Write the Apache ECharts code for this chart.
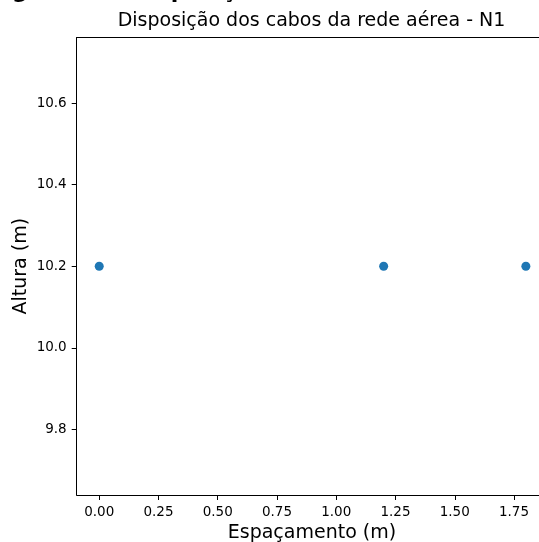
<!DOCTYPE html>
<html>
<head>
<meta charset="utf-8">
<script src="https://cdn.jsdelivr.net/npm/echarts@6/dist/echarts.min.js"></script>
<style>
  html, body { margin: 0; padding: 0; background: #fff; }
  #chart { width: 539px; height: 542px; }
</style>
</head>
<body>
<div id="chart"></div>
<script>
// Cable positions of the overhead line (N1)
const espacamento = [0.0, 1.2, 1.8];      // horizontal spacing (m)
const altura = [10.2, 10.2, 10.2];        // height (m)

// Tick values
const xTicks = [0.0, 0.25, 0.5, 0.75, 1.0, 1.25, 1.5, 1.75];
const yTicks = [9.8, 10.0, 10.2, 10.4, 10.6];

const FONT = 'DejaVu Sans';
const points = espacamento.map((x, i) => [x, altura[i]]);

const chart = echarts.init(document.getElementById('chart'), null, { renderer: 'canvas' });

chart.setOption({
  animation: false,
  backgroundColor: '#ffffff',
  title: [
    {
      text: 'Figura 12 - Disposição dos cabos da rede aérea',
      left: -10.6,
      top: -18.5,
      padding: 0,
      textStyle: { fontFamily: FONT, fontSize: 22, fontWeight: 'bold', color: '#000' }
    },
    {
      text: 'Disposição dos cabos da rede aérea - N1',
      left: 311.5,
      top: 12,
      padding: 0,
      textAlign: 'center',
      textStyle: { fontFamily: FONT, fontSize: 19, fontWeight: 'normal', color: '#000' }
    }
  ],
  grid: {
    left: 76.7, right: -8.2, top: 37.5, bottom: 47,
    containLabel: false,
    outerBoundsMode: 'none'
  },
  xAxis: [
    {
      type: 'value',
      position: 'bottom',
      min: -0.095,
      max: 1.89,
      name: 'Espaçamento (m)',
      nameLocation: 'middle',
      nameGap: 29,
      nameMoveOverlap: false,
      nameTextStyle: { fontFamily: FONT, fontSize: 19, color: '#000' },
      axisLine: { show: true, onZero: false, lineStyle: { color: '#000', width: 1 } },
      axisTick: { show: true, length: 5, customValues: xTicks, lineStyle: { color: '#000', width: 1 } },
      axisLabel: {
        customValues: xTicks,
        margin: 10,
        fontFamily: FONT,
        fontSize: 13.5,
        color: '#000',
        formatter: v => v.toFixed(2)
      },
      splitLine: { show: false }
    },
    {
      type: 'value',
      position: 'top',
      min: -0.095,
      max: 1.89,
      axisLine: { show: true, onZero: false, lineStyle: { color: '#000', width: 1 } },
      axisTick: { show: false },
      axisLabel: { show: false },
      splitLine: { show: false }
    }
  ],
  yAxis: {
    type: 'value',
    min: 9.639,
    max: 10.761,
    name: 'Altura (m)',
    nameLocation: 'middle',
    nameGap: 46,
    nameMoveOverlap: false,
    nameTextStyle: { fontFamily: FONT, fontSize: 19, color: '#000' },
    axisLine: { show: true, onZero: false, lineStyle: { color: '#000', width: 1 } },
    axisTick: { show: true, length: 5, customValues: yTicks, lineStyle: { color: '#000', width: 1 } },
    axisLabel: {
      customValues: yTicks,
      margin: 10,
      fontFamily: FONT,
      fontSize: 13.5,
      color: '#000',
      formatter: v => v.toFixed(1)
    },
    splitLine: { show: false }
  },
  series: [
    {
      type: 'scatter',
      xAxisIndex: 0,
      yAxisIndex: 0,
      data: points,
      symbol: 'circle',
      symbolSize: 9,
      itemStyle: { color: '#1f77b4', opacity: 1 }
    }
  ]
});
</script>
</body>
</html>
